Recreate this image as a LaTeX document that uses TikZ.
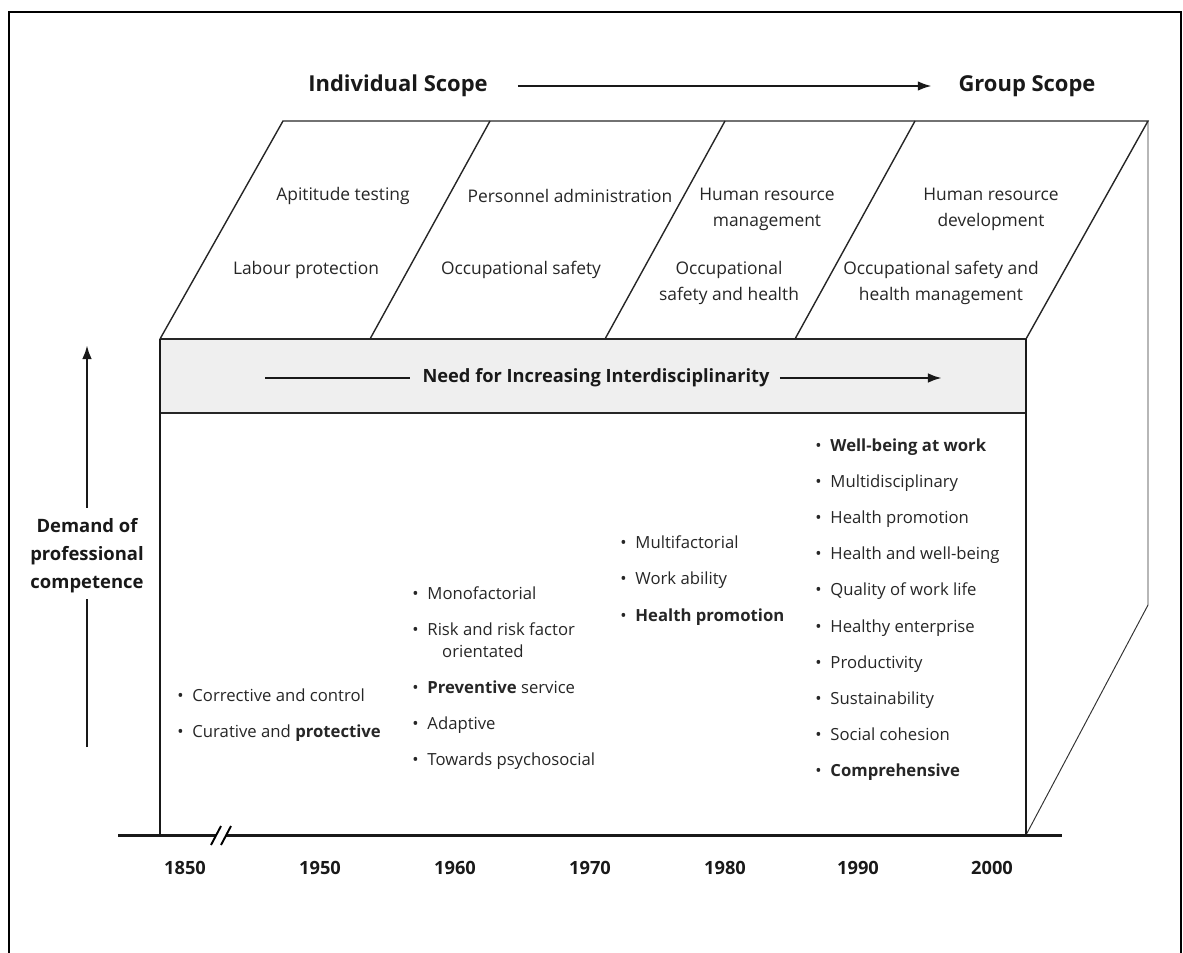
\documentclass[tikz,border=0pt]{standalone}
\usepackage{fontspec}
\setmainfont{Open Sans}
\usetikzlibrary{arrows.meta}
\definecolor{bandgray}{RGB}{239,239,239}
\tikzset{
  face/.style={draw=black!85, line width=0.8pt},
  sideface/.style={draw=black!80, line width=0.55pt},
  edge/.style={draw=black!90, line width=1.4pt},
  toptext/.style={align=center, inner sep=0pt, text=black!85, font=\fontsize{9.9}{14.8}\selectfont},
  item/.style={anchor=base west, inner sep=0pt, text=black!85, font=\fontsize{9.5}{12.5}\selectfont},
  head/.style={inner sep=0pt, text=black!90, font=\bfseries\fontsize{12.5}{15}\selectfont},
  year/.style={inner sep=0pt, text=black!90, font=\bfseries\fontsize{10.4}{12}\selectfont},
  bar/.style={line width=1.4pt, black!90},
  arr/.style={bar, -{Latex[length=8pt,width=5.5pt]}},
}
\newcommand\itembul{\makebox[8.6pt][l]{\textbullet}}
\begin{document}
\begin{tikzpicture}[x=0.02cm, y=-0.02cm]
  \useasboundingbox (0,0) rectangle (1183,953);
  % frame
  \draw[line width=1.1pt] (9,953) -- (9,12) -- (1181,12) -- (1181,953);

  % scope arrow
  \node[head] (indiv) at (398,86) {Individual Scope};
  \node[head] (group) at (1027,86) {Group Scope};
  \draw[arr, shorten <=17pt, shorten >=15pt] (indiv.east) -- (group.west);

  % box corners
  \coordinate (fl) at (160,339);
  \coordinate (fr) at (1026,339);
  \coordinate (bl) at (160,835);
  \coordinate (br) at (1026,835);
  \coordinate (tl) at (283,121);
  \coordinate (tr) at (1148,121);
  \coordinate (rb) at (1148,605);
  \coordinate (band) at (1026,413);

  % band
  \fill[bandgray] (fl) rectangle (band);
  \draw[face] (160,413) -- (band);

  % top face
  \draw[face] (fl) -- (tl) -- (tr) -- (fr);
  \draw[face] (370,339) -- (490,121);
  \draw[face] (605,339) -- (725,121);
  \draw[face] (795,339) -- (915,121);
  \draw[face] (fl) -- (fr);

  % right face
  \draw[sideface] (tr) -- (rb) -- (br);

  % front edges and time axis
  \draw[edge] (fl) -- (bl);
  \draw[edge] (fr) -- (br);
  \draw[line width=1.7pt, black!90] (118,835) -- (1062,835);
  \fill[white] (216,830) rectangle (226,840);
  \draw[line width=1.1pt] (211,845) -- (221,826);
  \draw[line width=1.1pt] (221,845) -- (231,826);

  % top face labels
  \node[toptext] (apt) at (343,196) {Apititude testing};
  \node[toptext] (lab) at (306,270) {Labour protection};
  \node[toptext] (pers) at (570,196) {Personnel administration};
  \node[toptext] (occ) at (521,270) {Occupational safety};
  \node[toptext] (hrm) at (767,209) {Human resource\\management};
  \node[toptext] (osh) at (729,283) {Occupational\\safety and health};
  \node[toptext] (hrd) at (991,209) {Human resource\\development};
  \node[toptext] (oshm) at (941,283) {Occupational safety and\\health management};

  % interdisciplinarity
  \node[inner sep=0pt, text=black!90, font=\bfseries\fontsize{10.4}{12}\selectfont] (need) at (596,378) {Need for Increasing Interdisciplinarity};
  \coordinate (needL) at (265,378);
  \coordinate (needR) at (942,378);
  \draw[bar, shorten >=6.8pt] (needL) -- (need.west);
  \draw[arr, shorten <=5.7pt] (need.east) -- (needR);

  % competence
  \node[align=center, inner sep=0pt, text=black!90, font=\bfseries\fontsize{10.5}{15.9}\selectfont] (demand) at (87,556) {Demand of\\professional\\competence};
  \coordinate (demB) at (87,747);
  \coordinate (demT) at (87,345);
  \draw[bar, shorten >=3pt] (demB) -- (demand.south);
  \draw[arr, shorten <=6pt] (demand.north) -- (demT);

  % items
  \foreach \yy/\txt [count=\i] in {701/{Corrective and control}, 737/{Curative and \textbf{protective}}}
    \node[item] (ia\i) at (177,\yy) {\itembul\txt};
  \foreach \yy/\txt [count=\i] in {599/{\itembul Monofactorial}, 635/{\itembul Risk and risk factor}, 657/{\hspace*{17pt}orientated}, 693/{\itembul\textbf{Preventive} service}, 729/{\itembul Adaptive}, 765/{\itembul Towards psychosocial}}
    \node[item] (ib\i) at (412,\yy) {\txt};
  \foreach \yy/\txt [count=\i] in {548/{Multifactorial}, 584/{Work ability}, 621/{\textbf{Health promotion}}}
    \node[item] (ic\i) at (620,\yy) {\itembul\txt};
  \foreach \txt [count=\i] in {{\textbf{Well-being at work}}, {Multidisciplinary}, {Health promotion}, {Health and well-being}, {Quality of work life}, {Healthy enterprise}, {Productivity}, {Sustainability}, {Social cohesion}, {\textbf{Comprehensive}}}
    \node[item] (id\i) at (815,{451+36.2*(\i-1)}) {\itembul\txt};

  % years
  \foreach \yr/\xx in {1850/185, 1950/320, 1960/455, 1970/590, 1980/725, 1990/858, 2000/992}
    \node[year] (y\yr) at (\xx,868) {\yr};
\end{tikzpicture}
\end{document}
